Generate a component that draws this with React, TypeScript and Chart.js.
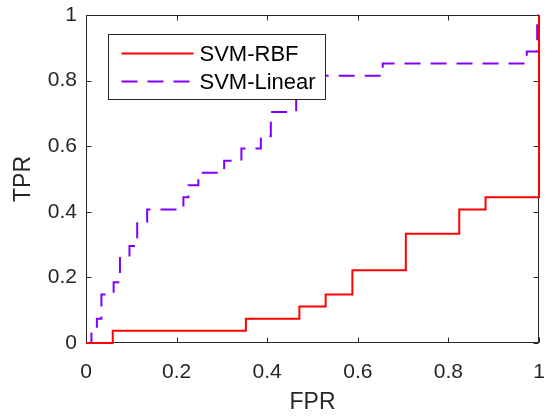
import React, { useEffect, useRef } from 'react';
import { Chart, registerables } from 'chart.js';

Chart.register(...registerables);

// SVM-RBF ROC curve (step vertices: value after each vertical jump)
const rbfFPR = [0, 0.059, 0.353, 0.471, 0.529, 0.588, 0.706, 0.824, 0.882, 1];
const rbfTPR = [0, 0.037, 0.074, 0.111, 0.148, 0.222, 0.333, 0.407, 0.444, 1];

// SVM-Linear ROC curve
const linFPR = [0, 0.012, 0.024, 0.034, 0.061, 0.075, 0.096, 0.113, 0.135, 0.215, 0.226, 0.248, 0.305, 0.343, 0.386, 0.408, 0.464, 0.655, 0.973, 0.996, 1];
const linTPR = [0, 0.037, 0.074, 0.148, 0.185, 0.259, 0.296, 0.370, 0.407, 0.444, 0.481, 0.519, 0.556, 0.593, 0.630, 0.704, 0.815, 0.852, 0.889, 1, 1];

const seriesLabels = ['SVM-RBF', 'SVM-Linear'];
const xTitle = 'FPR';
const yTitle = 'TPR';

const AXIS = '#262626';
const FONT = '"Liberation Sans", Arial, Helvetica, sans-serif';

const fmt = (v: any) => String(Number(Number(v).toFixed(1)));

const boxPlugin = {
  id: 'matlabBox',
  beforeDatasetsDraw(chart: any) {
    const { ctx, chartArea: a, scales } = chart;
    ctx.save();
    ctx.strokeStyle = AXIS;
    ctx.lineWidth = 1;
    const L = Math.round(a.left) + 0.5, R = Math.round(a.right) - 0.5;
    const T = Math.round(a.top) + 0.5, B = Math.round(a.bottom) - 0.5;
    ctx.strokeRect(L, T, R - L, B - T);
    const tl = 5;
    ctx.beginPath();
    scales.x.ticks.forEach((t: any) => {
      const px = Math.round(scales.x.getPixelForValue(t.value)) + 0.5;
      ctx.moveTo(px, B); ctx.lineTo(px, B - tl);
      ctx.moveTo(px, T); ctx.lineTo(px, T + tl);
    });
    scales.y.ticks.forEach((t: any) => {
      const py = Math.round(scales.y.getPixelForValue(t.value)) + 0.5;
      ctx.moveTo(L, py); ctx.lineTo(L + tl, py);
      ctx.moveTo(R, py); ctx.lineTo(R - tl, py);
    });
    ctx.stroke();
    ctx.restore();
  },
  afterDraw(chart: any) {
    const { ctx, chartArea: a } = chart;
    const x0 = Math.round(a.left + 22) + 0.5;
    const y0 = Math.round(a.top + 19) + 0.5;
    const w = 217, h = 65;
    ctx.save();
    ctx.fillStyle = '#ffffff';
    ctx.fillRect(x0, y0, w, h);
    ctx.strokeStyle = AXIS;
    ctx.lineWidth = 1;
    ctx.strokeRect(x0, y0, w, h);
    ctx.font = `22px ${FONT}`;
    ctx.textBaseline = 'middle';
    ctx.textAlign = 'left';
    chart.data.datasets.forEach((ds: any, i: number) => {
      const cy = y0 + 19 + i * 28;
      ctx.beginPath();
      ctx.strokeStyle = ds.borderColor;
      ctx.lineWidth = ds.borderWidth;
      ctx.setLineDash(ds.borderDash || []);
      ctx.moveTo(x0 + 13, cy);
      ctx.lineTo(x0 + 85, cy);
      ctx.stroke();
      ctx.setLineDash([]);
      ctx.fillStyle = '#000000';
      ctx.fillText(ds.label, x0 + 91, cy + 1);
    });
    ctx.restore();
  },
};

export default function App() {
  const ref = useRef<HTMLCanvasElement | null>(null);
  useEffect(() => {
    document.body.style.margin = '0';
    const canvas = ref.current;
    if (!canvas) return;
    const chart = new Chart(canvas, {
      type: 'line',
      data: {
        datasets: [
          {
            label: seriesLabels[0],
            data: rbfFPR.map((x, i) => ({ x, y: rbfTPR[i] })),
            borderColor: '#ff0000',
            borderWidth: 2,
            pointRadius: 0,
            stepped: 'before',
            fill: false,
            clip: false as any,
          },
          {
            label: seriesLabels[1],
            data: linFPR.map((x, i) => ({ x, y: linTPR[i] })),
            borderColor: '#8000ff',
            borderWidth: 2,
            borderDash: [16, 10],
            pointRadius: 0,
            stepped: 'before',
            fill: false,
            clip: false as any,
          },
        ],
      },
      options: {
        animation: false,
        responsive: false,
        maintainAspectRatio: false,
        layout: { padding: { top: 15, right: 7, left: 0, bottom: 0 } },
        plugins: { legend: { display: false }, tooltip: { enabled: false }, title: { display: false } },
        scales: {
          x: {
            type: 'linear',
            min: 0,
            max: 1,
            afterFit: (s: any) => { s.height = 75; s.paddingLeft = 0; s.paddingRight = 0; },
            grid: { display: false, drawTicks: false },
            border: { display: false },
            ticks: { stepSize: 0.2, padding: 17, color: AXIS, font: { family: FONT, size: 21 }, maxRotation: 0, callback: fmt },
            title: { display: true, text: xTitle, color: AXIS, font: { family: FONT, size: 23 }, padding: { top: 0, bottom: 2 } },
          },
          y: {
            type: 'linear',
            min: 0,
            max: 1,
            afterFit: (s: any) => { s.width = 86; s.paddingTop = 0; s.paddingBottom = 0; },
            grid: { display: false, drawTicks: false },
            border: { display: false },
            ticks: { stepSize: 0.2, padding: 9, color: AXIS, font: { family: FONT, size: 21 }, callback: fmt },
            title: { display: true, text: yTitle, color: AXIS, font: { family: FONT, size: 23 }, padding: { top: 10, bottom: 0 } },
          },
        },
      },
      plugins: [boxPlugin],
    });
    return () => chart.destroy();
  }, []);
  return <canvas ref={ref} width={546} height={418} style={{ display: 'block', width: 546, height: 418 }} />;
}
